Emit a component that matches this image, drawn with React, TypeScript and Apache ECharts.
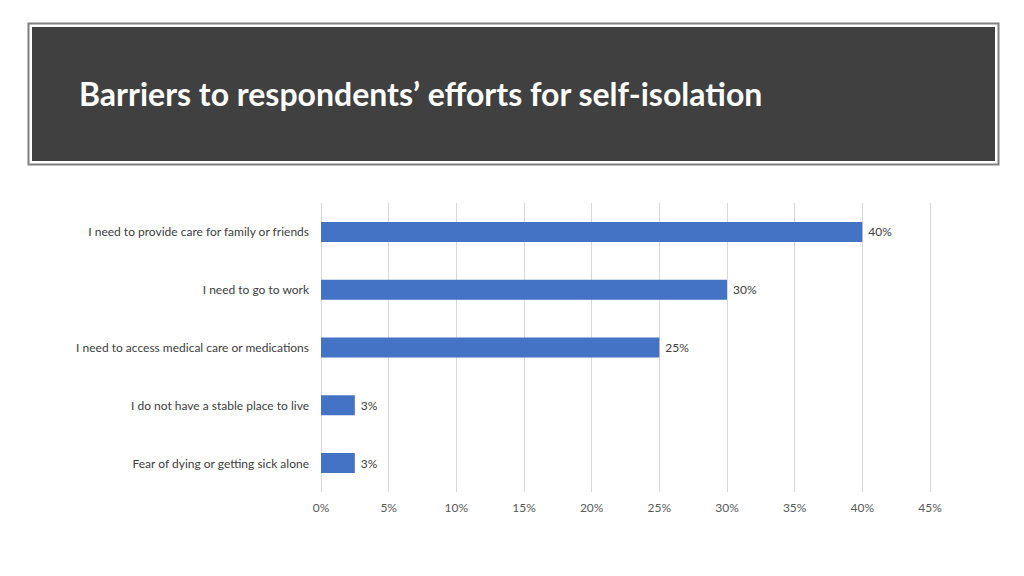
import React, { useEffect, useRef } from "react";
import * as echarts from "echarts";

const categories = [
  "Fear of dying or getting sick alone",
  "I do not have a stable place to live",
  "I need to access medical care or medications",
  "I need to go to work",
  "I need to provide care for family or friends",
];
const values = [2.5, 2.5, 25, 30, 40];
const titleText = "Barriers to respondents\u2019 efforts for self-isolation";

export default function App() {
  const ref = useRef<HTMLDivElement>(null);
  useEffect(() => {
    document.body.style.margin = "0";
    const chart = echarts.init(ref.current!, null, { renderer: "svg" });
    chart.setOption({
      animation: false,
      backgroundColor: "#ffffff",
      textStyle: { fontFamily: "Lato" },
      graphic: [
        { type: "rect", shape: { x: 28.5, y: 23.5, width: 970, height: 141 }, style: { fill: "#ffffff", stroke: "#7f7f7f", lineWidth: 2 } },
        { type: "rect", shape: { x: 32, y: 27, width: 963, height: 134 }, style: { fill: "#404040" } },
        { type: "text", x: 79, y: 93, style: { text: titleText, fill: "#ffffff", font: "bold 32px Lato", verticalAlign: "middle" } },
      ],
      grid: { left: 321, right: 94, top: 203, bottom: 84, containLabel: false },
      xAxis: {
        type: "value",
        min: 0,
        max: 45,
        interval: 5,
        axisLine: { show: false },
        axisTick: { show: false },
        splitLine: { show: true, lineStyle: { color: "#d9d9d9", width: 1 } },
        axisLabel: { formatter: "{value}%", color: "#595959", fontSize: 12, margin: 9, fontFamily: "Lato" },
      },
      yAxis: {
        type: "category",
        data: categories,
        axisLine: { show: false },
        axisTick: { show: false },
        axisLabel: { color: "#404040", fontSize: 12, margin: 12, fontFamily: "Lato" },
      },
      series: [
        {
          type: "bar",
          data: values,
          barWidth: 20,
          itemStyle: { color: "#4472c4" },
          label: {
            show: true,
            position: "right",
            distance: 6,
            color: "#404040",
            fontSize: 12,
            fontFamily: "Lato",
            formatter: (p: any) => Math.round(p.value) + "%",
          },
        },
      ],
    });
    return () => chart.dispose();
  }, []);
  return <div ref={ref} style={{ width: 1024, height: 576 }} />;
}
